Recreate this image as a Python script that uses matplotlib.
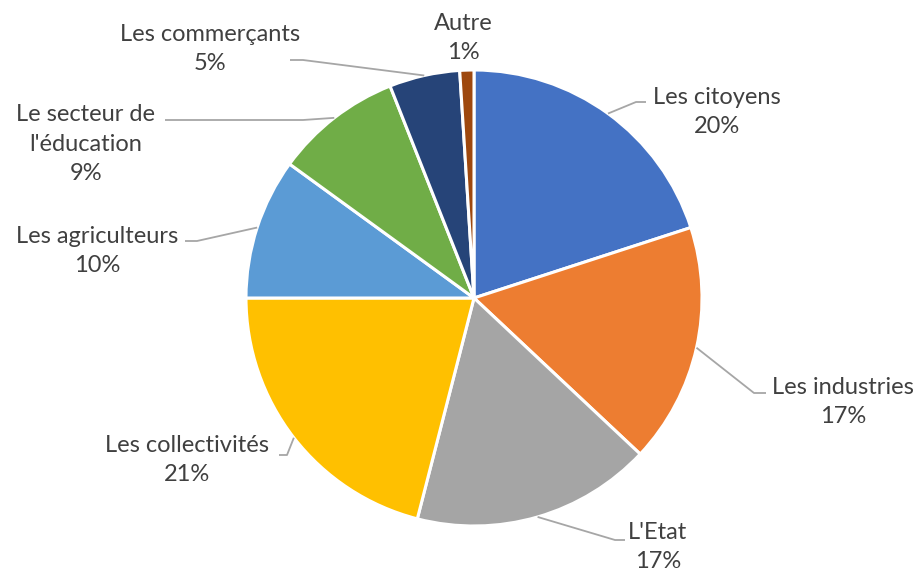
import numpy as np
import matplotlib
matplotlib.use('Agg')
import matplotlib.pyplot as plt

categories = ["Les citoyens", "Les industries", "L'Etat", "Les collectivités",
              "Les agriculteurs", "Le secteur de\nl'éducation", "Les commerçants", "Autre"]
values = [20, 17, 17, 21, 10, 9, 5, 1]
colors = ["#4472C4", "#ED7D31", "#A5A5A5", "#FFC000",
          "#5B9BD5", "#70AD47", "#264478", "#9E480E"]

# label layout in pixels from the top-left corner: text centre, elbow of leader line
text_pos = [(717, 112), (843, 402), (658, 547), (187, 460),
            (97, 251), (86, 144), (210, 49), (463, 38)]
elbows = [(636, 102), (754, 393), (615, 540), (287, 455),
          (197, 241), (303, 120), (303, 60), None]
ends = [(646, 102), (766, 393), (625, 540), (279, 455),
        (185, 241), (165, 120), (290, 60), None]

W, H = 920, 574
cx, cy, r = 474, 298, 228

plt.rcParams['font.family'] = ['Lato', 'DejaVu Sans']
fig = plt.figure(figsize=(W / 100, H / 100), dpi=100)
ax = fig.add_axes([0, 0, 1, 1])

wedges, _ = ax.pie(values, colors=colors, startangle=90, counterclock=False,
                   center=(cx, H - cy), radius=r,
                   wedgeprops=dict(edgecolor='white', linewidth=2.2))
# pie() sets its own limits, so set ours afterwards
ax.set_xlim(0, W)
ax.set_ylim(0, H)
ax.set_aspect('equal')
ax.axis('off')

for w, cat, v, tp, el, en in zip(wedges, categories, values, text_pos, elbows, ends):
    ang = np.deg2rad((w.theta1 + w.theta2) / 2)
    if el is not None:
        x0 = cx + r * np.cos(ang)
        y0 = (H - cy) + r * np.sin(ang)
        ax.plot([x0, el[0], en[0]], [y0, H - el[1], H - en[1]],
                color='#A6A6A6', lw=1.3, solid_capstyle='butt')
    ax.text(tp[0], H - tp[1], f"{cat}\n{v}%", ha='center', va='center',
            fontsize=17, color='#404040', linespacing=1.5)

fig.savefig('out.png', dpi=100, facecolor='white')
